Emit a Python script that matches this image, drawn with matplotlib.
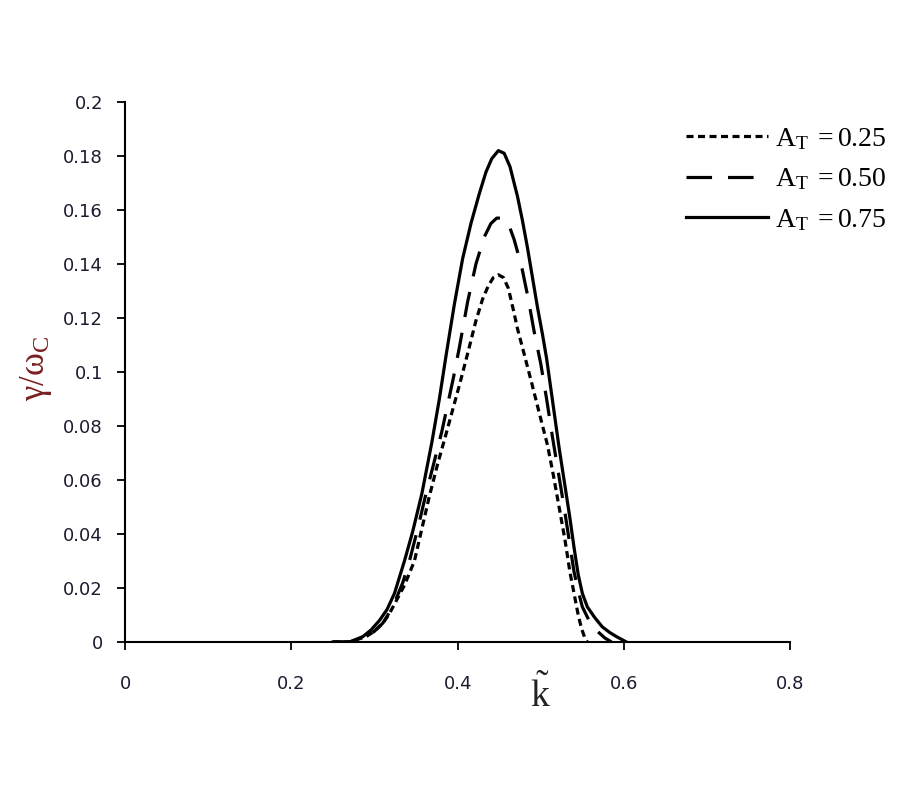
import matplotlib
matplotlib.use("Agg")
import matplotlib.pyplot as plt

# A_T = 0.25 (short dashes)
k_25 = [0.25, 0.27, 0.29, 0.30, 0.31, 0.317, 0.324, 0.336, 0.348, 0.357, 0.366, 0.376, 0.386,
        0.394, 0.402, 0.413, 0.422, 0.430, 0.437, 0.443, 0.449, 0.455, 0.461, 0.467, 0.472,
        0.478, 0.489, 0.498, 0.508, 0.515, 0.522, 0.529, 0.535, 0.540, 0.545, 0.549, 0.553, 0.556]
g_25 = [0.0, 0.0, 0.002, 0.004, 0.007, 0.010, 0.014, 0.021, 0.030, 0.042, 0.054, 0.066, 0.077,
        0.086, 0.095, 0.108, 0.119, 0.127, 0.132, 0.135, 0.136, 0.135, 0.131, 0.123, 0.116,
        0.109, 0.096, 0.085, 0.073, 0.062, 0.050, 0.038, 0.026, 0.018, 0.010, 0.005, 0.0015, 0.0]

# A_T = 0.50 (long dashes)
k_50 = [0.25, 0.27, 0.29, 0.30, 0.31, 0.318, 0.326, 0.334, 0.342, 0.352, 0.362, 0.372, 0.381,
        0.388, 0.395, 0.402, 0.412, 0.422, 0.432, 0.440, 0.447, 0.454, 0.461, 0.468, 0.477,
        0.485, 0.492, 0.500, 0.507, 0.514, 0.521, 0.528, 0.534, 0.540, 0.545, 0.550, 0.558,
        0.568, 0.577, 0.585]
g_50 = [0.0, 0.0, 0.002, 0.004, 0.007, 0.011, 0.016, 0.022, 0.030, 0.042, 0.055, 0.067, 0.078,
        0.088, 0.098, 0.109, 0.126, 0.140, 0.150, 0.155, 0.157, 0.157, 0.155, 0.149, 0.139,
        0.127, 0.115, 0.103, 0.090, 0.076, 0.063, 0.050, 0.038, 0.026, 0.019, 0.013, 0.008,
        0.004, 0.0015, 0.0]

# A_T = 0.75 (solid)
k_75 = [0.25, 0.27, 0.286, 0.296, 0.306, 0.315, 0.324, 0.336, 0.346, 0.357, 0.369, 0.378, 0.386,
        0.396, 0.406, 0.416, 0.426, 0.434, 0.441, 0.449, 0.456, 0.463, 0.472, 0.478, 0.484,
        0.490, 0.496, 0.502, 0.507, 0.512, 0.517, 0.522, 0.529, 0.535, 0.540, 0.545, 0.550,
        0.556, 0.565, 0.574, 0.583, 0.591, 0.603]
g_75 = [0.0, 0.0, 0.002, 0.0045, 0.008, 0.012, 0.018, 0.030, 0.041, 0.055, 0.074, 0.090, 0.106,
        0.125, 0.142, 0.155, 0.166, 0.174, 0.179, 0.182, 0.181, 0.176, 0.165, 0.156, 0.146,
        0.135, 0.124, 0.114, 0.105, 0.094, 0.083, 0.072, 0.058, 0.046, 0.035, 0.025, 0.018,
        0.013, 0.009, 0.0056, 0.0035, 0.002, 0.0]

labels = [r'$\mathrm{A}_{\mathrm{T}}\;=0.25$', r'$\mathrm{A}_{\mathrm{T}}\;=0.50$', r'$\mathrm{A}_{\mathrm{T}}\;=0.75$']
x_ticks = [0, 0.2, 0.4, 0.6, 0.8]
y_ticks = [0, 0.02, 0.04, 0.06, 0.08, 0.1, 0.12, 0.14, 0.16, 0.18, 0.2]

plt.rcParams['mathtext.fontset'] = 'custom'
plt.rcParams['mathtext.rm'] = 'Liberation Serif'
plt.rcParams['mathtext.it'] = 'Liberation Serif:italic'

fig = plt.figure(figsize=(9, 8), dpi=100)
ax = fig.add_axes([0.139, 0.1975, 0.739, 0.675])

lw = 2.3
ax.plot(k_25, g_25, color='black', lw=lw, linestyle=(0, (2.2, 1.4)), label=labels[0])
ax.plot(k_50, g_50, color='black', lw=lw, linestyle=(0, (8, 5)), label=labels[1])
ax.plot(k_75, g_75, color='black', lw=lw, linestyle='-', label=labels[2])

ax.set_xlim(0, 0.8)
ax.set_ylim(0, 0.2)
ax.set_xticks(x_ticks)
ax.set_xticklabels([f"{v:g}" for v in x_ticks])
ax.set_yticks(y_ticks)
ax.set_yticklabels([f"{v:g}" for v in y_ticks])

for s in ['top', 'right']:
    ax.spines[s].set_visible(False)
for s in ['left', 'bottom']:
    ax.spines[s].set_linewidth(1.5)

ax.tick_params(axis='y', direction='out', length=6, width=1.3, pad=10, labelsize=13, labelcolor='#1c1c30')
ax.tick_params(axis='x', direction='out', length=6, width=1.3, pad=18, labelsize=13, labelcolor='#1c1c30')

fig.text(0.040, 0.54, r'$\mathrm{\gamma/\omega_{C}}$', rotation=90, fontsize=25,
         color='#7a1f1f', ha='center', va='center')
fig.text(0.600, 0.132, r'$\tilde{\mathrm{k}}$', fontsize=27, color='#222222', ha='center', va='center')

leg = fig.legend(loc='upper left', bbox_to_anchor=(0.762, 0.845), frameon=False, fontsize=20,
                 handlelength=2.95, handletextpad=0.25, labelspacing=0.45, borderpad=0,
                 borderaxespad=0)

fig.savefig('out.png', dpi=100)
